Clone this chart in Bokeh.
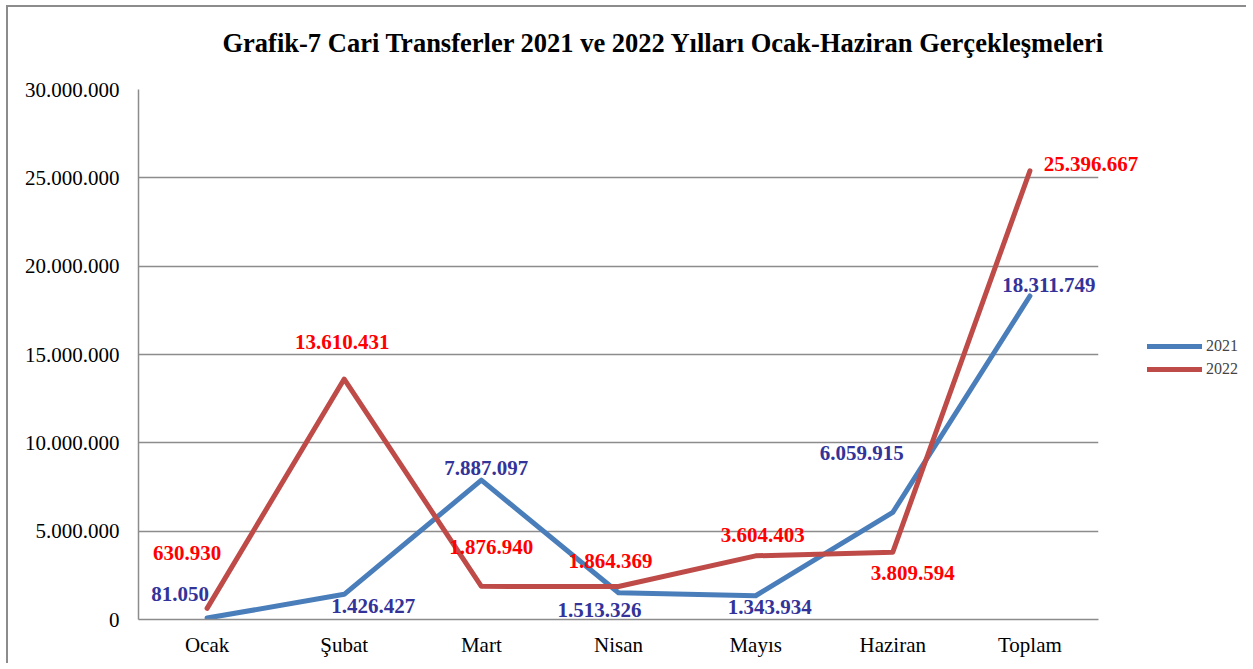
from bokeh.plotting import figure
from bokeh.layouts import row
from bokeh.models import ColumnDataSource, Legend, LegendItem, CustomJSTickFormatter, FixedTicker, Title
from bokeh.core.properties import value
from bokeh.embed import file_html
from bokeh.resources import INLINE

categories = ["Ocak", "Şubat", "Mart", "Nisan", "Mayıs", "Haziran", "Toplam"]
values_2021 = [81050, 1426427, 7887097, 1513326, 1343934, 6059915, 18311749]
values_2022 = [630930, 13610431, 1876940, 1864369, 3604403, 3809594, 25396667]
series_names = ["2021", "2022"]
y_ticks = [0, 5000000, 10000000, 15000000, 20000000, 25000000, 30000000]

# label offsets (screen px, +y = down) - styling only
dx_2021 = [-27, 29, 5, -19, 14, -31, 19]
dy_2021 = [-24, 12, -12, 17, 11, -59, -11]
dx_2022 = [-20, -2, 10, -8, 7, 20, 61]
dy_2022 = [-55, -37, -39, -26, -21, 21, -7]

def fmt(v):
    return f"{v:,}".replace(",", ".")

FONT = "Liberation Serif"
GRID = "#8c8c8c"
BLUE = "#4a7ebb"
RED = "#be4b48"
H = 656

p = figure(x_range=categories, y_range=(0, 30000000), frame_width=958, frame_height=528,
           output_backend="svg", toolbar_location=None,
           min_border_left=130, min_border_right=50, min_border_top=82, min_border_bottom=46)
p.margin = (5, 0, 0, 6)
p.styles = {"border-left": "2px solid #8c8c8c", "border-top": "2px solid #8c8c8c"}
p.outline_line_color = None
p.background_fill_color = "white"
p.border_fill_color = "white"

p.title.text = "Grafik-7 Cari Transferler 2021 ve 2022 Yılları Ocak-Haziran Gerçekleşmeleri"
p.title.text_font = FONT
p.title.text_font_size = "26.5px"
p.title.text_font_style = "bold"
p.title.text_color = "black"
p.title.align = "left"
p.title.offset = 84
p.title.standoff = 0
# spacer between title and plot area
p.add_layout(Title(text=" ", text_font_size="1px", standoff=29), "above")

p.x_range.range_padding = 0
p.xgrid.grid_line_color = None
p.ygrid.grid_line_color = GRID
p.ygrid.grid_line_width = 1.5
p.yaxis.ticker = FixedTicker(ticks=y_ticks)
p.yaxis.formatter = CustomJSTickFormatter(code="return Math.round(tick).toString().replace(/\\B(?=(\\d{3})+(?!\\d))/g, '.');")

for ax in (p.xaxis[0], p.yaxis[0]):
    ax.axis_line_color = GRID
    ax.axis_line_width = 1.5
    ax.major_tick_line_color = None
    ax.minor_tick_line_color = None
    ax.major_tick_in = 0
    ax.major_tick_out = 0
    ax.major_label_text_font = FONT
    ax.major_label_text_font_size = "21px"
    ax.major_label_text_color = "black"
p.yaxis.major_label_standoff = 19
p.xaxis.major_label_standoff = 13

src = ColumnDataSource(dict(
    x=categories, y1=values_2021, y2=values_2022,
    l1=[fmt(v) for v in values_2021], l2=[fmt(v) for v in values_2022],
    dx1=dx_2021, dy1=dy_2021, dx2=dx_2022, dy2=dy_2022,
))

p.line("x", "y1", source=src, line_color=BLUE, line_width=5, line_cap="round", line_join="round")
p.line("x", "y2", source=src, line_color=RED, line_width=5, line_cap="round", line_join="round")

for yf, lf, dxf, dyf, col in (("y1", "l1", "dx1", "dy1", "#333399"), ("y2", "l2", "dx2", "dy2", "#ff0000")):
    p.text("x", yf, text=lf, source=src, x_offset=dxf, y_offset=dyf, level="overlay",
           text_font=value(FONT), text_font_size="21px", text_font_style="bold",
           text_color=col, text_align="center", text_baseline="middle")

# legend panel (separate narrow figure so the legend sits outside the plot area)
p2 = figure(width=100, height=H, output_backend="svg", toolbar_location=None,
            x_axis_type=None, y_axis_type=None, min_border=0,
            x_range=(0, 1), y_range=(0, 1))
p2.margin = (5, 0, 0, 0)
p2.styles = {"border-top": "2px solid #8c8c8c"}
p2.outline_line_color = None
p2.grid.grid_line_color = None
leg_src = ColumnDataSource(dict(x=[0], y=[0]))
lr1 = p2.line("x", "y", source=leg_src, line_color=BLUE, line_width=5, line_cap="round")
lr2 = p2.line("x", "y", source=leg_src, line_color=RED, line_width=5, line_cap="round")
legend = Legend(items=[LegendItem(label=series_names[0], renderers=[lr1]),
                       LegendItem(label=series_names[1], renderers=[lr2])],
                location=(1, 238), padding=0, margin=0, spacing=3,
                glyph_width=55, glyph_height=20, label_height=20, label_standoff=4,
                label_text_font=FONT, label_text_font_size="16px",
                border_line_color=None, background_fill_alpha=0)
p2.add_layout(legend, "center")

open("out.html", "w").write(file_html(row(p, p2), INLINE))
